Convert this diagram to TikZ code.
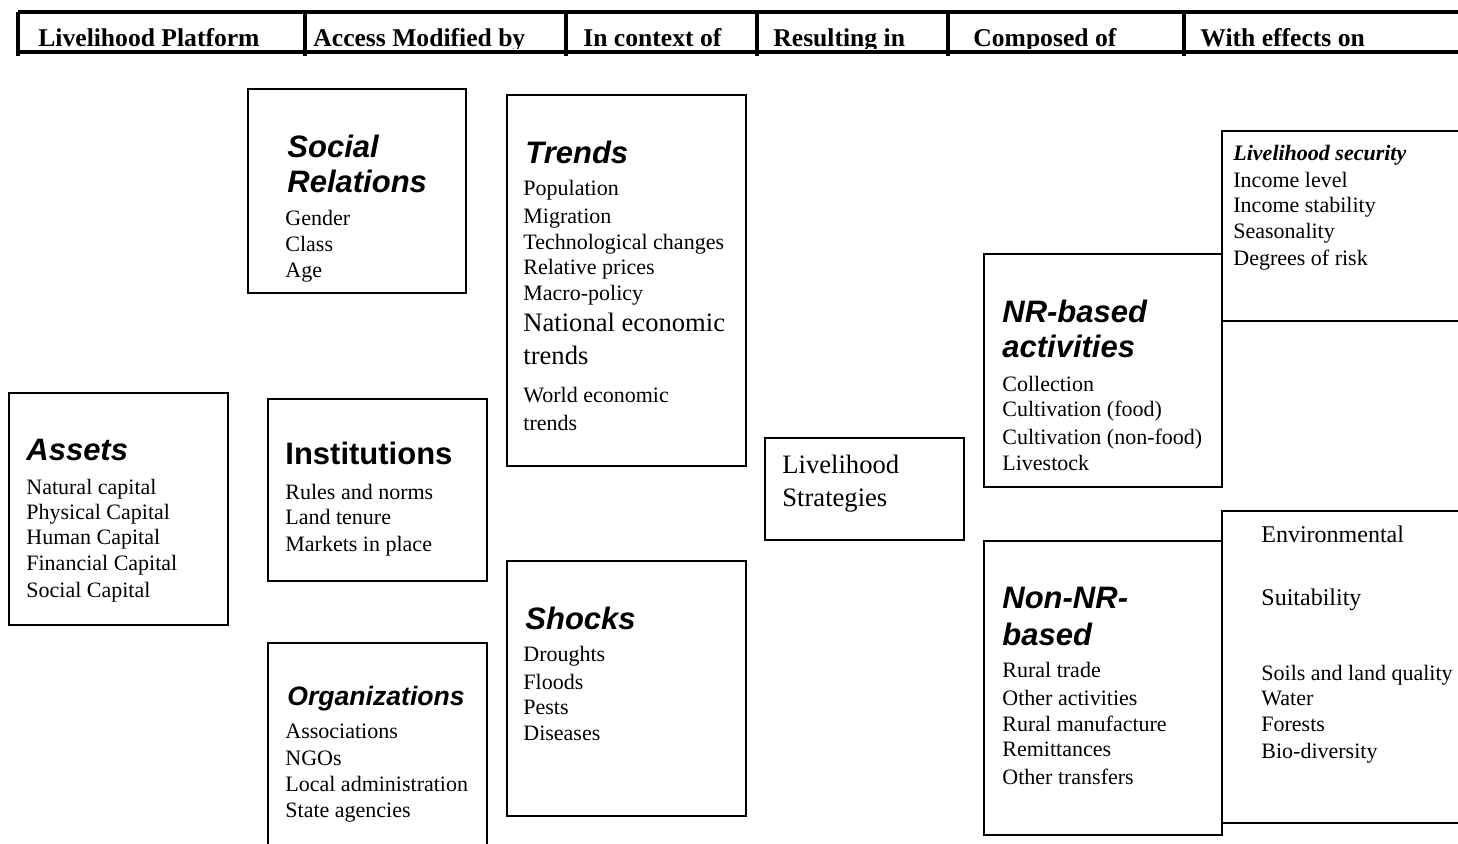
\documentclass[tikz,border=0pt]{standalone}
\usepackage{fontspec}
\setmainfont{Liberation Serif}
\setsansfont{Liberation Sans}
\usetikzlibrary{fit}
\tikzset{
  box/.style={draw, line width=1pt, inner sep=0pt},
  rule/.style={line width=1.75pt},
  item/.style={anchor=base west, inner sep=0pt, font=\fontsize{11}{13}\selectfont},
  big/.style={anchor=base west, inner sep=0pt, font=\fontsize{13.3}{15}\selectfont},
  mid/.style={anchor=base west, inner sep=0pt, font=\fontsize{12}{14}\selectfont},
  ttl/.style={anchor=base west, inner sep=0pt, font=\sffamily\bfseries\itshape\fontsize{15.5}{17}\selectfont},
  head/.style={anchor=base west, inner sep=0pt, font=\bfseries\fontsize{12.8}{14}\selectfont},
}
% a framed box from its two corners
\def\mkbox#1#2#3{
  \coordinate (#1-a) at #2;
  \coordinate (#1-b) at #3;
  \node[box, fit=(#1-a)(#1-b)] (#1) {};
}

\begin{document}
\begin{tikzpicture}[x=0.5pt, y=-0.5pt]
  \useasboundingbox (0,0) rectangle (1458,843);
  \clip (0,0) rectangle (1458,843);

  % header row
  \begin{scope}
    \clip (0,0) rectangle (1458,48.5);
    \node[head] (h1) at (38,46) {Livelihood Platform};
    \node[head] (h2) at (313,46) {Access Modified by};
    \node[head] (h3) at (583,46) {In context of};
    \node[head] (h4) at (773,46) {Resulting in};
    \node[head] (h5) at (973,46) {Composed of};
    \node[head] (h6) at (1200,46) {With effects on};
  \end{scope}
  \draw[rule] (18,12) -- (1470,12);
  \draw[rule] (18,52) -- (1470,52);
  \foreach \x in {18,305,566,757,948,1184}
    \draw[rule] (\x,12) -- (\x,56);

  % column 1
  \mkbox{assets}{(9,393)}{(228,625)}
  \node[ttl] (assets-t) at (26,460) {Assets};
  \foreach \t/\y [count=\i] in {Natural capital/494, Physical Capital/519,
      Human Capital/544, Financial Capital/570, Social Capital/597}
    \node[item] (assets-\i) at (26,\y) {\t};

  % column 2
  \mkbox{social}{(248,89)}{(466,293)}
  \node[ttl] (social-t1) at (287,157) {Social};
  \node[ttl] (social-t2) at (287,192) {Relations};
  \foreach \t/\y [count=\i] in {Gender/225, Class/251, Age/277}
    \node[item] (social-\i) at (285,\y) {\t};

  \mkbox{inst}{(268,399)}{(487,581)}
  \node[ttl, font=\sffamily\bfseries\fontsize{15.5}{17}\selectfont] (inst-t) at (285,464) {Institutions};
  \foreach \t/\y [count=\i] in {Rules and norms/499, Land tenure/524, Markets in place/551}
    \node[item] (inst-\i) at (285,\y) {\t};

  \mkbox{org}{(268,643)}{(487,860)}
  \node[ttl, font=\sffamily\bfseries\itshape\fontsize{13.3}{15}\selectfont] (org-t) at (287,705) {Organizations};
  \foreach \t/\y [count=\i] in {Associations/738, NGOs/765,
      Local administration/791, State agencies/817}
    \node[item] (org-\i) at (285,\y) {\t};

  % column 3
  \mkbox{trends}{(507,95)}{(746,466)}
  \node[ttl] (trends-t) at (525,163) {Trends};
  \foreach \t/\y [count=\i] in {Population/195, Migration/223,
      Technological changes/249, Relative prices/274, Macro-policy/300}
    \node[item] (trends-\i) at (523,\y) {\t};
  \node[big] (trends-6) at (523,331) {National economic};
  \node[big] (trends-7) at (523,364) {trends};
  \node[item] (trends-8) at (523,402) {World economic};
  \node[item] (trends-9) at (523,430) {trends};

  \mkbox{shocks}{(507,561)}{(746,816)}
  \node[ttl] (shocks-t) at (525,629) {Shocks};
  \foreach \t/\y [count=\i] in {Droughts/661, Floods/689, Pests/714, Diseases/740}
    \node[item] (shocks-\i) at (523,\y) {\t};

  % column 4
  \mkbox{strat}{(765,438)}{(964,540)}
  \node[big] (strat-1) at (782,473) {Livelihood};
  \node[big] (strat-2) at (782,506) {Strategies};

  % column 5
  \mkbox{nr}{(984,254)}{(1222,487)}
  \node[ttl] (nr-t1) at (1002,322) {NR-based};
  \node[ttl] (nr-t2) at (1002,357) {activities};
  \foreach \t/\y [count=\i] in {Collection/391, Cultivation (food)/416,
      Cultivation (non-food)/444, Livestock/470}
    \node[item] (nr-\i) at (1002,\y) {\t};

  \mkbox{nonnr}{(984,541)}{(1222,835)}
  \node[ttl] (nonnr-t1) at (1002,608) {Non-NR-};
  \node[ttl] (nonnr-t2) at (1002,645) {based};
  \foreach \t/\y [count=\i] in {Rural trade/677, Other activities/705,
      Rural manufacture/731, Remittances/756, Other transfers/784}
    \node[item] (nonnr-\i) at (1002,\y) {\t};

  % column 6
  \mkbox{secur}{(1222,131)}{(1480,321)}
  \node[item, font=\bfseries\itshape\fontsize{11}{13}\selectfont] (secur-t) at (1233,160) {Livelihood security};
  \foreach \t/\y [count=\i] in {Income level/187, Income stability/212,
      Seasonality/238, Degrees of risk/265}
    \node[item] (secur-\i) at (1233,\y) {\t};

  \mkbox{env}{(1222,511)}{(1480,823)}
  \node[mid] (env-t1) at (1261,542) {Environmental};
  \node[mid] (env-t2) at (1261,605) {Suitability};
  \foreach \t/\y [count=\i] in {Soils and land quality/680, Water/705,
      Forests/731, Bio-diversity/758}
    \node[item] (env-\i) at (1261,\y) {\t};
\end{tikzpicture}
\end{document}
